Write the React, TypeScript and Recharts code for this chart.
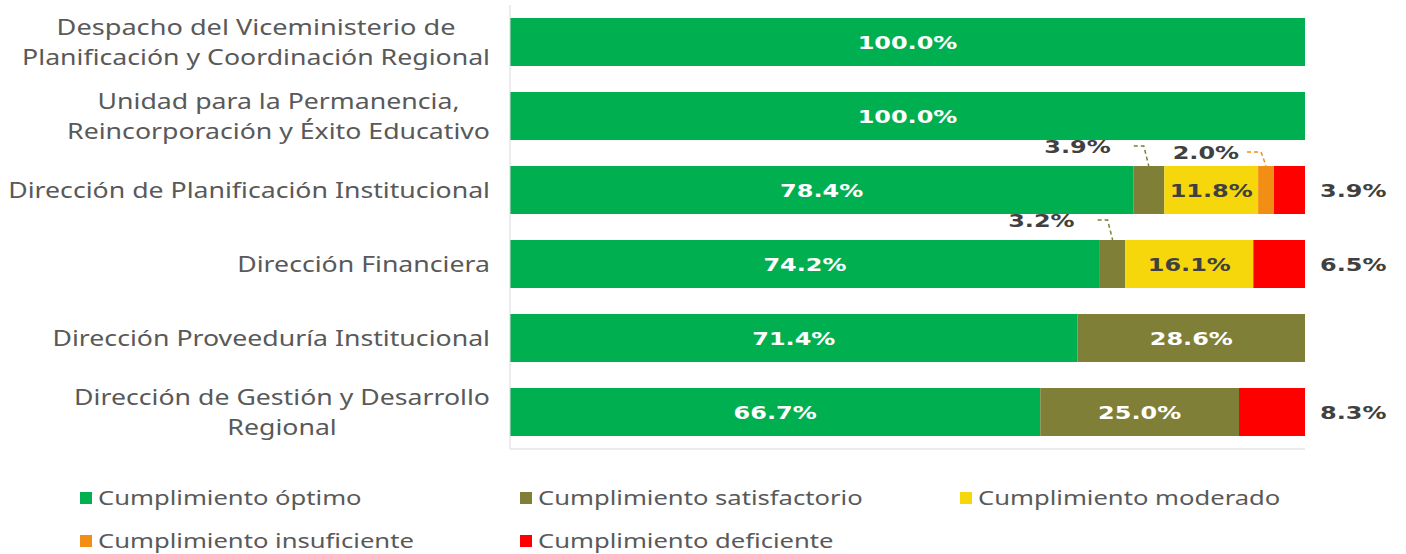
import { BarChart, Bar, XAxis, YAxis, LabelList } from 'recharts';

const categories = [
  'Despacho del  Viceministerio de\nPlanificación y Coordinación Regional',
  'Unidad para la Permanencia,\nReincorporación y Éxito Educativo',
  'Dirección de Planificación Institucional',
  'Dirección Financiera',
  'Dirección Proveeduría Institucional',
  'Dirección de Gestión y Desarrollo\nRegional',
];

const optimo = [100, 100, 78.4, 74.2, 71.4, 66.7];
const satisfactorio = [0, 0, 3.9, 3.2, 28.6, 25.0];
const moderado = [0, 0, 11.8, 16.1, 0, 0];
const insuficiente = [0, 0, 2.0, 0, 0, 0];
const deficiente = [0, 0, 3.9, 6.5, 0, 8.3];

const seriesNames = [
  'Cumplimiento óptimo',
  'Cumplimiento satisfactorio',
  'Cumplimiento moderado',
  'Cumplimiento insuficiente',
  'Cumplimiento deficiente',
];
const colors = ['#00B050', '#7F7F37', '#F6D70C', '#F28E13', '#FF0000'];

const data = categories.map((name, i) => ({
  name,
  optimo: optimo[i],
  satisfactorio: satisfactorio[i],
  moderado: moderado[i],
  insuficiente: insuficiente[i],
  deficiente: deficiente[i],
}));

// the source font is a wide geometric face; stretch a local font to match
const AXIS_FONT = '21px "Noto Sans"';
const AXIS_STRETCH = 1.27;
const LABEL_FONT = 'bold 18px "DejaVu Sans"';
const LABEL_STRETCH = 1.33;

let ctx: CanvasRenderingContext2D | null = null;
const measure = (s: string, font: string) => {
  if (!ctx) ctx = document.createElement('canvas').getContext('2d');
  if (!ctx) return s.length * 11;
  ctx.font = font;
  return ctx.measureText(s).width;
};

const CategoryTick = (props: any) => {
  const { x, y, payload } = props;
  const lines: string[] = String(payload.value).split('\n');
  const widths = lines.map((l) => measure(l, AXIS_FONT) * AXIS_STRETCH);
  const w = Math.max(...widths);
  const cx = x - 12 - w / 2;
  const lh = 29.5;
  const y0 = y - ((lines.length - 1) * lh) / 2;
  return (
    <g>
      {lines.map((l, i) => (
        <text
          key={i}
          x={cx}
          y={y0 + i * lh}
          textAnchor="middle"
          dominantBaseline="central"
          fill="#595959"
          style={{ font: AXIS_FONT }}
          textLength={widths[i]}
          lengthAdjust="spacingAndGlyphs"
        >
          {l}
        </text>
      ))}
    </g>
  );
};

const fmt = (v: number) => v.toFixed(1) + '%';

const Txt = ({ x, y, anchor, fill, s }: any) => (
  <text
    x={x}
    y={y}
    textAnchor={anchor}
    dominantBaseline="central"
    fill={fill}
    style={{ font: LABEL_FONT }}
    textLength={measure(s, LABEL_FONT) * LABEL_STRETCH}
    lengthAdjust="spacingAndGlyphs"
  >
    {s}
  </text>
);

const makeLabel = (
  mode: 'inside' | 'right' | 'leader',
  fill: string,
  color: string,
  dx = -38,
  dy = -20,
  lead = -15,
) =>
  (props: any) => {
    const { x, y, width, height, value } = props;
    if (!value) return null;
    const cx = x + width / 2;
    const cy = y + height / 2;
    if (mode === 'inside' || (mode === 'leader' && value >= 5)) {
      return <Txt x={cx} y={cy} anchor="middle" fill={fill} s={fmt(value)} />;
    }
    if (mode === 'right') {
      return <Txt x={x + width + 15} y={cy} anchor="start" fill="#404040" s={fmt(value)} />;
    }
    const ly = y + dy;
    return (
      <g>
        <Txt x={cx + dx} y={ly} anchor="end" fill="#404040" s={fmt(value)} />
        <polyline
          points={`${cx + lead},${ly} ${cx - 5},${ly} ${cx},${y}`}
          fill="none"
          stroke={color}
          strokeWidth={1.5}
          strokeDasharray="4 3"
        />
      </g>
    );
  };

const Legend = () => {
  const cols = [80, 520, 960];
  return (
    <div style={{ position: 'absolute', left: 0, top: 470, width: 1406, height: 84 }}>
      {seriesNames.map((n, i) => (
        <div
          key={n}
          style={{
            position: 'absolute',
            left: cols[i % 3],
            top: i < 3 ? 14 : 57,
            display: 'flex',
            alignItems: 'center',
            font: '20px "Noto Sans"',
            color: '#595959',
            whiteSpace: 'nowrap',
          }}
        >
          <span style={{ width: 12, height: 12, background: colors[i], display: 'inline-block', marginRight: 6 }} />
          <span style={{ display: 'inline-block', transform: 'scaleX(1.28)', transformOrigin: 'left center' }}>{n}</span>
        </div>
      ))}
    </div>
  );
};

export default function App() {
  const keys = ['optimo', 'satisfactorio', 'moderado', 'insuficiente', 'deficiente'];
  return (
    <div style={{ position: 'absolute', left: 0, top: 0, width: 1406, height: 554, background: '#fff' }}>
      <BarChart
        width={1406}
        height={460}
        data={data}
        layout="vertical"
        margin={{ top: 5, right: 101, bottom: 10, left: 0 }}
        barSize={48}
      >
        <XAxis
          type="number"
          domain={[0, 100]}
          tick={false}
          tickLine={false}
          height={1}
          axisLine={{ stroke: '#D9D9D9' }}
        />
        <YAxis
          type="category"
          dataKey="name"
          width={510}
          tickLine={false}
          axisLine={{ stroke: '#D9D9D9' }}
          tick={<CategoryTick />}
          interval={0}
        />
        {keys.map((k, i) => (
          <Bar key={k} dataKey={k} stackId="a" fill={colors[i]} isAnimationActive={false}>
            <LabelList
              dataKey={k}
              content={
                i === 0
                  ? makeLabel('inside', '#fff', colors[i])
                  : i === 1
                  ? makeLabel('leader', '#fff', colors[i], -38, -20, -15)
                  : i === 2
                  ? makeLabel('inside', '#404040', colors[i])
                  : i === 3
                  ? makeLabel('leader', '#404040', colors[i], -27, -14, -19)
                  : makeLabel('right', '#404040', colors[i])
              }
            />
          </Bar>
        ))}
      </BarChart>
      <Legend />
    </div>
  );
}
